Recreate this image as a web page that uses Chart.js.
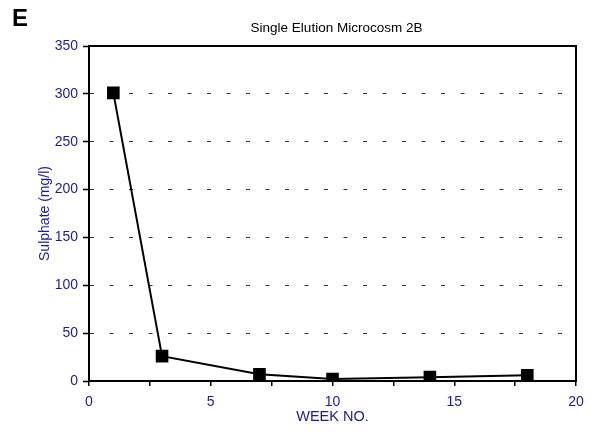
<!DOCTYPE html>
<html>
<head>
<meta charset="utf-8">
<script src="https://cdn.jsdelivr.net/npm/chart.js@4/dist/chart.umd.min.js"></script>
<style>
html,body{margin:0;padding:0;background:#fff;}
#wrap{width:595px;height:432px;position:relative;}
</style>
</head>
<body>
<div id="wrap"><canvas id="c" width="595" height="432"></canvas></div>
<script>
const weeks = [1, 3, 7, 10, 14, 18];
const sulphate = [301, 26, 7, 2, 4, 6];
const yTicks = [0, 50, 100, 150, 200, 250, 300, 350];
const xTicks = [0, 5, 10, 15, 20];
const panelLetter = 'E';
const chartTitle = 'Single Elution Microcosm 2B';
const xTitle = 'WEEK NO.';
const yTitle = 'Sulphate (mg/l)';

const BLUE = '#1c1c94';
const FONT = '"Liberation Sans", Arial, sans-serif';

const framePlugin = {
  id: 'frame',
  afterDraw(chart) {
    const {ctx, chartArea} = chart;
    ctx.save();
    ctx.strokeStyle = '#000';
    ctx.lineWidth = 2;
    ctx.beginPath();
    ctx.moveTo(chartArea.left - 1, chartArea.top);
    ctx.lineTo(chartArea.right, chartArea.top);
    ctx.lineTo(chartArea.right, chartArea.bottom + 1);
    ctx.stroke();
    ctx.fillStyle = '#000';
    ctx.font = 'bold 24px ' + FONT;
    ctx.textBaseline = 'alphabetic';
    ctx.textAlign = 'left';
    ctx.fillText(panelLetter, 12, 26);
    ctx.font = '13.5px ' + FONT;
    ctx.textAlign = 'center';
    ctx.textBaseline = 'middle';
    ctx.fillText(chartTitle, (chartArea.left + chartArea.right) / 2 + 4, 28);
    ctx.restore();
  }
};

new Chart(document.getElementById('c'), {
  type: 'line',
  data: {
    datasets: [{
      data: weeks.map((w, i) => ({x: w, y: sulphate[i]})),
      borderColor: '#000',
      backgroundColor: '#000',
      borderWidth: 2,
      pointStyle: 'rect',
      pointRadius: 7.5,
      pointHoverRadius: 7.5,
      tension: 0
    }]
  },
  options: {
    responsive: false,
    animation: false,
    events: [],
    layout: {padding: {left: 0, right: 19, top: 46, bottom: 0}},
    plugins: {
      legend: {display: false},
      tooltip: {enabled: false},
      title: {display: false}
    },
    scales: {
      x: {
        type: 'linear',
        min: 0, max: 20,
        afterFit(s) { s.height = 51; },
        afterBuildTicks(s) {
          const t = [];
          for (let v = 0; v <= 20; v += 2.5) t.push({value: v});
          s.ticks = t;
        },
        ticks: {
          autoSkip: false,
          maxRotation: 0,
          color: BLUE,
          padding: 8,
          font: {family: FONT, size: 14},
          callback: v => xTicks.includes(v) ? String(v) : ''
        },
        grid: {drawOnChartArea: false, color: '#000', tickLength: 5, lineWidth: 1.5},
        border: {display: true, color: '#000', width: 2},
        title: {
          display: true, text: xTitle, color: BLUE,
          font: {family: FONT, size: 14.5, lineHeight: 1.2},
          padding: {top: 0, bottom: 6}
        }
      },
      y: {
        min: 0, max: 350,
        afterFit(s) { s.width = 89; },
        afterBuildTicks(s) { s.ticks = yTicks.map(v => ({value: v})); },
        ticks: {
          color: BLUE,
          padding: 5,
          font: {family: FONT, size: 14}
        },
        grid: {
          color: '#333',
          lineWidth: 1,
          tickLength: 6,
          tickColor: '#000',
          tickWidth: 1.5,
          tickBorderDash: []
        },
        border: {display: true, color: '#000', width: 2, dash: [4, 15.5]},
        title: {
          display: true, text: yTitle, color: BLUE,
          font: {family: FONT, size: 14, lineHeight: 1.2},
          padding: {top: 37, bottom: 0}
        }
      }
    }
  },
  plugins: [framePlugin]
});
</script>
</body>
</html>
